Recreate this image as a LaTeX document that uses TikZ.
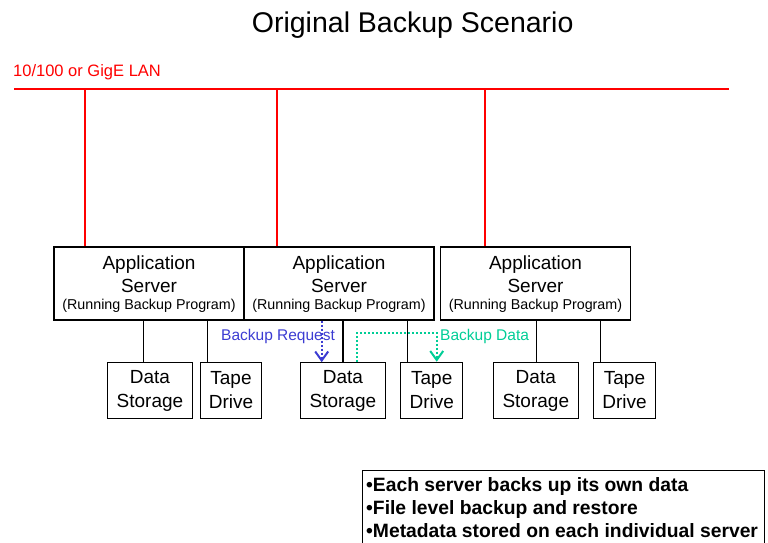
\documentclass[tikz,border=0pt]{standalone}
\usepackage{fontspec}
\setmainfont{Liberation Sans}
\usetikzlibrary{arrows.meta,calc}

\definecolor{lanred}{RGB}{255,0,0}
\definecolor{reqblue}{RGB}{60,60,210}
\definecolor{datateal}{RGB}{0,205,150}

\begin{document}
\begin{tikzpicture}[x=1pt,y=-1pt]
\tikzstyle{every node}=[inner sep=0pt]
\tikzstyle{srvbox}=[draw,line width=1.2pt,minimum width=190pt,minimum height=73pt]
\tikzstyle{devbox}=[draw,line width=1.2pt,minimum height=56pt,align=center,
  font=\fontsize{19}{23.7}\selectfont]
\tikzstyle{bigtxt}=[anchor=base,font=\fontsize{19}{23}\selectfont]
\tikzstyle{smalltxt}=[anchor=base,font=\fontsize{14.3}{17}\selectfont]
\tikzstyle{wire}=[line width=1.2pt]
\tikzstyle{lan}=[lanred,line width=2.6pt]
\tikzstyle{reqline}=[reqblue,line width=2pt,dash pattern=on 2pt off 2pt,
  -{Straight Barb[length=9pt,width=13pt,line width=2pt]}]
\tikzstyle{dataline}=[datateal,line width=2pt,dash pattern=on 2pt off 2pt,
  -{Straight Barb[length=9pt,width=13pt,line width=2pt]}]

\useasboundingbox (0,0) rectangle (768,543);

\node[anchor=base west,font=\fontsize{28.5}{32}\selectfont] (title) at (251.7,32.7)
{Original Backup Scenario};

% the LAN bus
\node[anchor=base west,text=lanred,font=\fontsize{16.5}{20}\selectfont] (lanlbl)
  at (13,76) {10/100 or GigE LAN};
\coordinate (lanL) at (14,89);
\coordinate (lanR) at (729,89);
\draw[lan] (lanL) -- (lanR);

% three application servers
\node[srvbox] (srvA) at (149,283.5) {};
\node[srvbox] (srvB) at (339,283.5) {};
\node[srvbox] (srvC) at (535.5,283.5) {};

\node[bigtxt] (appA) at ($(srvA.north)+(0,23)$) {Application};
\node[bigtxt] (appB) at ($(srvB.north)+(0,23)$) {Application};
\node[bigtxt] (appC) at ($(srvC.north)+(0,23)$) {Application};
\node[bigtxt] (svrA) at ($(srvA.north)+(0,46)$) {Server};
\node[bigtxt] (svrB) at ($(srvB.north)+(0,46)$) {Server};
\node[bigtxt] (svrC) at ($(srvC.north)+(0,46)$) {Server};
\node[smalltxt] (runA) at ($(srvA.north)+(0,63.5)$) {(Running Backup Program)};
\node[smalltxt] (runB) at ($(srvB.north)+(0,63.5)$) {(Running Backup Program)};
\node[smalltxt] (runC) at ($(srvC.north)+(0,63.5)$) {(Running Backup Program)};

% drops from the LAN
\draw[lan,line width=2pt] ([xshift=32pt]srvA.north west) -- ([xshift=32pt]srvA.north west |- lanL);
\draw[lan,line width=2pt] ([xshift=34pt]srvB.north west) -- ([xshift=34pt]srvB.north west |- lanL);
\draw[lan,line width=2pt] ([xshift=45pt]srvC.north west) -- ([xshift=45pt]srvC.north west |- lanL);

% storage and tape under each server
\node[devbox,minimum width=84.5pt] (dsA) at (150,390.8) {Data\\Storage};
\node[devbox,minimum width=60.5pt] (tdA) at (231,390.3) {Tape\\Drive};
\node[devbox,minimum width=84.5pt] (dsB) at (342.9,390.8) {Data\\Storage};
\node[devbox,minimum width=62pt] (tdB) at (431.7,390.3) {Tape\\Drive};
\node[devbox,minimum width=85pt] (dsC) at (535.8,390.8) {Data\\Storage};
\node[devbox,minimum width=62.4pt] (tdC) at (624.5,390.3) {Tape\\Drive};

\draw[wire] ([xshift=-6.7pt]dsA.north) -- ([xshift=-6.7pt]dsA.north |- srvA.south);
\draw[wire] ([xshift=7pt]tdA.north west) -- ([xshift=7pt]tdA.north west |- srvA.south);
\draw[wire] (dsB.north) -- (dsB.north |- srvB.south);
\draw[wire] ([xshift=7.6pt]tdB.north west) -- ([xshift=7.6pt]tdB.north west |- srvB.south);
\draw[wire] ([xshift=0.9pt]dsC.north) -- ([xshift=0.9pt]dsC.north |- srvC.south);
\draw[wire] ([xshift=7.4pt]tdC.north west) -- ([xshift=7.4pt]tdC.north west |- srvC.south);

% backup request and backup data flows
\node[anchor=base west,text=reqblue,font=\fontsize{15.5}{18}\selectfont] (reqlbl)
  at (221,340.5) {Backup Request};
\node[anchor=base west,text=datateal,font=\fontsize{15.5}{18}\selectfont] (datalbl)
  at (440,340.5) {Backup Data};
\draw[reqline] ([xshift=-17.3pt]srvB.south) -- ([xshift=-17.3pt]srvB.south |- dsB.north);
\draw[dataline] ([xshift=14.5pt]dsB.north) -- ++(0,-29.6) -| ([xshift=5pt]tdB.north);

% notes box
\node[draw,line width=1.2pt,anchor=north west,minimum width=402pt,minimum height=80pt]
  (notes) at (361.5,470) {};
\node[anchor=north west,align=left,font=\bfseries\fontsize{19.3}{23}\selectfont] (notetxt)
  at (366,477.5) {•Each server backs up its own data\\
  •File level backup and restore\\
  •Metadata stored on each individual server};

\end{tikzpicture}
\end{document}
